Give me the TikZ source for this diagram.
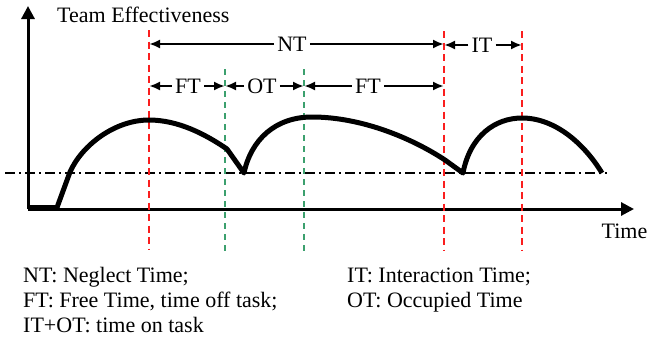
\documentclass[tikz,border=0pt]{standalone}
\usepackage{fontspec}
\setmainfont{Liberation Serif}
\usetikzlibrary{arrows.meta}
\definecolor{vred}{RGB}{250,30,30}
\definecolor{vgreen}{RGB}{60,160,110}
\tikzset{
  lbl/.style={font=\fontsize{22}{26}\selectfont, inner sep=0pt},
  dimlbl/.style={lbl, inner xsep=3pt},
  dimarrow/.style={line width=2.8pt, -{Latex[length=11pt,width=9pt]}},
  axis/.style={line width=3pt, -{Triangle[length=13pt,width=13pt]}},
  redline/.style={vred, line width=2.5pt, dash pattern=on 7pt off 4.5pt},
  greenline/.style={vgreen, line width=2.5pt, dash pattern=on 6pt off 5pt},
  curve/.style={line width=5pt, line join=round},
  refline/.style={line width=2pt, dash pattern=on 10pt off 4pt on 2pt off 4pt}
}
\begin{document}
\begin{tikzpicture}[x=1pt,y=-1pt]
\useasboundingbox (0,0) rectangle (648,341);
% axes
\coordinate (O) at (28,209);
\coordinate (ytip) at (28,6);
\coordinate (xtip) at (634,209);
\draw[axis] (O) -- (ytip);
\draw[axis] (O) -- (xtip);
% reference line
\coordinate (rl0) at (5,173);
\coordinate (rl1) at (607,173);
\draw[refline] (rl0) -- (rl1);
% vertical lines
\coordinate (r1t) at (149,30); \coordinate (r1b) at (149,249);
\coordinate (g1t) at (225,69); \coordinate (g1b) at (225,253);
\coordinate (g2t) at (304,69); \coordinate (g2b) at (304,253);
\coordinate (r2t) at (444,31); \coordinate (r2b) at (444,251);
\coordinate (r3t) at (522,31); \coordinate (r3b) at (522,251);
\draw[redline] (r1t) -- (r1b);
\draw[greenline] (g1t) -- (g1b);
\draw[greenline] (g2t) -- (g2b);
\draw[redline] (r2t) -- (r2b);
\draw[redline] (r3t) -- (r3b);
% curve
\draw[curve] (28,207.5) -- (57,207.5) -- (70,172)
  .. controls (82,145) and (115,120) .. (149,120)
  .. controls (178,120) and (205,134) .. (227,149) -- (244,173)
  .. controls (251,140) and (275,117) .. (312,117)
  .. controls (360,117) and (410,137) .. (445,160) -- (463,173)
  .. controls (470,136) and (495,118) .. (522,118)
  .. controls (556,118) and (585,145) .. (602,173);
% labels
\node[lbl, anchor=base west] (ylab) at (57,22) {Team Effectiveness};
\node[lbl, anchor=base east] (xlab) at (647.5,238) {Time};
% dimension rows
\node[dimlbl] (NT) at (292,44) {NT};
\draw[dimarrow] (NT.west) -- (NT.west -| r1t);
\draw[dimarrow] (NT.east) -- (NT.east -| r2t);
\node[dimlbl] (IT) at (482,45) {IT};
\draw[dimarrow] (IT.west) -- (IT.west -| r2t);
\draw[dimarrow] (IT.east) -- (IT.east -| r3t);
\node[dimlbl] (FT1) at (188,86) {FT};
\draw[dimarrow] (FT1.west) -- (FT1.west -| r1t);
\draw[dimarrow] (FT1.east) -- (FT1.east -| g1t);
\node[dimlbl] (OT) at (262,86) {OT};
\draw[dimarrow] (OT.west) -- (OT.west -| g1t);
\draw[dimarrow] (OT.east) -- (OT.east -| g2t);
\node[dimlbl] (FT2) at (368,86) {FT};
\draw[dimarrow] (FT2.west) -- (FT2.west -| g2t);
\draw[dimarrow] (FT2.east) -- (FT2.east -| r2t);
% legend
\node[lbl, anchor=base west] (leg1) at (23,282) {NT: Neglect Time;};
\node[lbl, anchor=base west] (leg2) at (23,307) {FT: Free Time, time off task;};
\node[lbl, anchor=base west] (leg3) at (23,332) {IT+OT: time on task};
\node[lbl, anchor=base west] (leg4) at (347,282) {IT: Interaction Time;};
\node[lbl, anchor=base west] (leg5) at (347,307) {OT: Occupied Time};
\end{tikzpicture}
\end{document}
